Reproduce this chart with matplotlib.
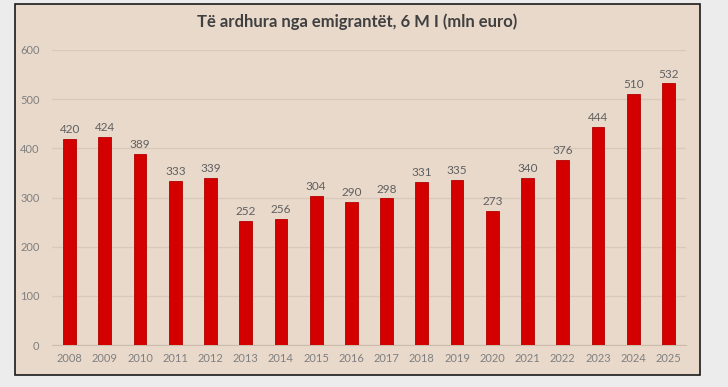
import matplotlib.pyplot as plt
from matplotlib.patches import Rectangle

# data
years = ['2008', '2009', '2010', '2011', '2012', '2013', '2014', '2015', '2016',
         '2017', '2018', '2019', '2020', '2021', '2022', '2023', '2024', '2025']
values = [420, 424, 389, 333, 339, 252, 256, 304, 290,
          298, 331, 335, 273, 340, 376, 444, 510, 532]
title = 'Të ardhura nga emigrantët, 6 M I (mln euro)'

plt.rcParams['font.family'] = ['Lato', 'DejaVu Sans']

fig = plt.figure(figsize=(7.28, 3.87), dpi=100)
fig.patch.set_facecolor('#ececec')

# inner beige panel with dark border
panel = Rectangle((15 / 728, 1 - 375 / 387), 685 / 728, 371 / 387,
                  transform=fig.transFigure, facecolor='#e9d9cb',
                  edgecolor='#1a1a1a', linewidth=1.2, zorder=-5)
fig.patches.append(panel)

ax = fig.add_axes([52 / 728, 42 / 387, 634 / 728, 295 / 387])
ax.set_facecolor('none')

x = range(len(years))
bars = ax.bar(x, values, width=0.36, color='#d40000', edgecolor='#b00000',
              linewidth=0.6, zorder=3)

for xi, v in zip(x, values):
    ax.text(xi, v + 8, str(v), ha='center', va='bottom', fontsize=8.5,
            color='#5f5f5f')

ax.set_ylim(0, 600)
ax.set_xlim(-0.5, len(years) - 0.5)
ax.set_yticks(range(0, 601, 100))
ax.set_xticks(list(x))
ax.set_xticklabels(years)
ax.grid(axis='y', color='#d9c9bb', linewidth=0.9, zorder=0)
ax.tick_params(axis='both', length=0, labelsize=8, colors='#7f7f7f')
ax.tick_params(axis='y', pad=9)
ax.tick_params(axis='x', pad=6)
for s in ['top', 'right', 'left']:
    ax.spines[s].set_visible(False)
ax.spines['bottom'].set_color('#cbbcae')

fig.text(357 / 728, 1 - 22 / 387, title, ha='center', va='center',
         fontsize=12, fontweight='bold', color='#404040')

fig.savefig('out.png', dpi=100, facecolor=fig.get_facecolor())
